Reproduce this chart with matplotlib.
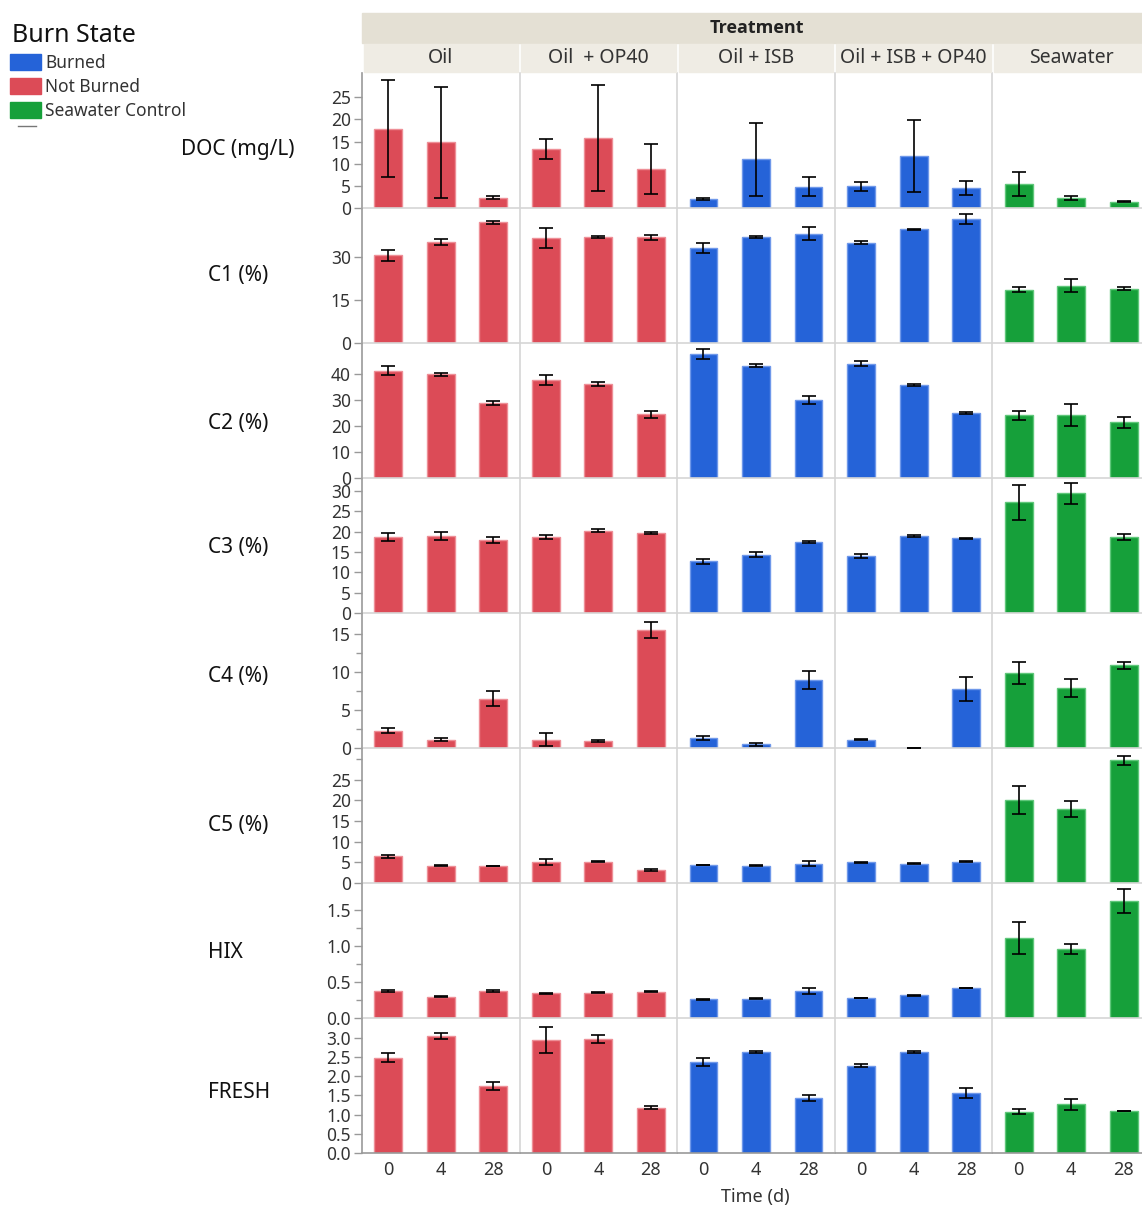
import numpy as np
import matplotlib.pyplot as plt
from matplotlib.patches import Rectangle
from matplotlib.lines import Line2D

plt.rcParams['font.family'] = ['Noto Sans', 'DejaVu Sans']

# categories
treatments = ['Oil', 'Oil  + OP40', 'Oil + ISB', 'Oil + ISB + OP40', 'Seawater']
burn_of_treatment = ['Not Burned', 'Not Burned', 'Burned', 'Burned', 'Seawater Control']
times = ['0', '4', '28']
responses = ['DOC (mg/L)', 'C1 (%)', 'C2 (%)', 'C3 (%)', 'C4 (%)', 'C5 (%)', 'HIX', 'FRESH']

# means and error bars, one row of 3 time points per treatment
doc_mean = [[17.9, 14.8, 2.35], [13.3, 15.75, 8.8], [2.1, 11.0, 4.85], [4.9, 11.7, 4.55], [5.4, 2.2, 1.4]]
doc_err = [[11.0, 12.5, 0.35], [2.3, 12.0, 5.7], [0.2, 8.3, 2.1], [0.95, 8.1, 1.5], [2.65, 0.4, 0.1]]

c1_mean = [[30.5, 35.1, 42.0], [36.6, 36.9, 36.8], [33.2, 36.9, 38.1], [34.95, 39.6, 43.1], [18.5, 19.9, 18.9]]
c1_err = [[2.0, 1.1, 0.6], [3.5, 0.3, 0.9], [1.7, 0.5, 2.4], [0.6, 0.1, 1.7], [0.9, 2.3, 0.5]]

c2_mean = [[41.3, 40.0, 29.0], [37.7, 36.2, 24.5], [47.7, 43.3, 30.0], [44.1, 35.9, 25.1], [24.1, 24.4, 21.4]]
c2_err = [[1.7, 0.6, 0.8], [2.0, 0.6, 1.35], [1.9, 0.6, 1.5], [0.9, 0.3, 0.3], [1.9, 4.2, 2.2]]

c3_mean = [[18.6, 19.0, 17.9], [18.6, 20.2, 19.7], [12.7, 14.3, 17.5], [14.1, 18.9, 18.35], [27.2, 29.4, 18.75]]
c3_err = [[1.0, 1.0, 0.7], [0.5, 0.4, 0.2], [0.6, 0.6, 0.2], [0.5, 0.2, 0.2], [4.3, 2.5, 0.8]]

c4_mean = [[2.26, 1.1, 6.47], [1.1, 0.9, 15.5], [1.33, 0.5, 8.9], [1.1, 0.05, 7.7], [9.8, 7.9, 10.85]]
c4_err = [[0.33, 0.2, 1.0], [0.9, 0.1, 1.05], [0.3, 0.2, 1.2], [0.1, 0.0, 1.6], [1.45, 1.2, 0.45]]

c5_mean = [[6.5, 4.2, 4.1], [5.05, 5.2, 3.1], [4.4, 4.2, 4.7], [5.0, 4.7, 5.2], [20.1, 18.0, 29.7]]
c5_err = [[0.4, 0.2, 0.05], [0.75, 0.2, 0.2], [0.05, 0.2, 0.6], [0.2, 0.2, 0.2], [3.4, 1.9, 1.0]]

hix_mean = [[0.375, 0.296, 0.375], [0.343, 0.352, 0.366], [0.26, 0.27, 0.375], [0.278, 0.315, 0.42], [1.115, 0.954, 1.625]]
hix_err = [[0.01, 0.01, 0.01], [0.01, 0.005, 0.01], [0.01, 0.01, 0.045], [0.003, 0.01, 0.003], [0.22, 0.07, 0.17]]

fresh_mean = [[2.49, 3.05, 1.75], [2.95, 2.97, 1.18], [2.37, 2.63, 1.43], [2.27, 2.64, 1.57], [1.08, 1.27, 1.1]]
fresh_err = [[0.12, 0.08, 0.1], [0.33, 0.11, 0.04], [0.11, 0.02, 0.085], [0.04, 0.02, 0.13], [0.06, 0.15, 0.005]]

means = [doc_mean, c1_mean, c2_mean, c3_mean, c4_mean, c5_mean, hix_mean, fresh_mean]
errs = [doc_err, c1_err, c2_err, c3_err, c4_err, c5_err, hix_err, fresh_err]

# axis setup for each response row
ylims = [(0, 30.5), (0, 47), (0, 52), (0, 33.2), (0, 17.7), (0, 32.7), (0, 1.875), (0, 3.52)]
major = [np.arange(0, 26, 5), [0, 15, 30], np.arange(0, 41, 10), np.arange(0, 31, 5),
         [0, 5, 10, 15], np.arange(0, 26, 5), [0, 0.5, 1.0, 1.5], np.arange(0, 3.01, 0.5)]
minor = [[], [], [], [], [2.5, 7.5, 12.5], [30], [0.25, 0.75, 1.25], []]
fmts = ['%d', '%d', '%d', '%d', '%d', '%d', '%.1f', '%.1f']

colors = {'Burned': '#2563d8', 'Not Burned': '#dc4b57', 'Seawater Control': '#16a03a'}
edges = {'Burned': '#6f98ea', 'Not Burned': '#ee8f97', 'Seawater Control': '#5fc77a'}

W, H = 1142, 1208
fig = plt.figure(figsize=(W / 100, H / 100), dpi=100)

def fx(px):
    return px / W

def fy(py):
    return 1 - py / H

left0, col_w = 362, 157.6
top0, row_h = 73, 135
txt = '#333333'

for r in range(len(responses)):
    for c in range(len(treatments)):
        ax = fig.add_axes([fx(left0 + c * col_w), fy(top0 + (r + 1) * row_h), col_w / W, row_h / H])
        state = burn_of_treatment[c]
        x = np.arange(len(times))
        ax.bar(x, means[r][c], width=0.53, color=colors[state], edgecolor=edges[state], linewidth=1, zorder=2)
        ax.errorbar(x, means[r][c], yerr=errs[r][c], fmt='none', ecolor='black',
                    elinewidth=1.2, capsize=5, capthick=1.2, zorder=3)
        ax.set_xlim(-0.5, 2.5)
        ax.set_ylim(*ylims[r])
        for s in ['top', 'right']:
            ax.spines[s].set_visible(False)
        ax.spines['left'].set_color('#999999' if c == 0 else '#d6d6d6')
        ax.spines['bottom'].set_color('#999999' if r == len(responses) - 1 else '#d6d6d6')
        ax.spines['left'].set_linewidth(1.2)
        ax.spines['bottom'].set_linewidth(1.2)
        ax.set_yticks(major[r])
        ax.set_yticks(minor[r], minor=True)
        if c == 0:
            ax.set_yticklabels([fmts[r] % v for v in major[r]])
            ax.tick_params(axis='y', which='both', length=6, width=1, color='#999999',
                           labelsize=12.5, labelcolor=txt, pad=2)
            ax.tick_params(axis='y', which='minor', length=4)
        else:
            ax.tick_params(axis='y', which='both', left=False, labelleft=False)
        ax.set_xticks(x)
        if r == len(responses) - 1:
            ax.set_xticklabels(times)
            ax.tick_params(axis='x', length=0, labelsize=13, labelcolor=txt, pad=6)
        else:
            ax.tick_params(axis='x', length=0, labelbottom=False)
        ax.patch.set_alpha(0)

# response labels on the left
label_x = [181, 208, 208, 208, 208, 208, 208, 208]
label_y = [149, 275, 423, 548, 677, 826, 952, 1092]
for name, lx, ly in zip(responses, label_x, label_y):
    fig.text(fx(lx), fy(ly), name, fontsize=15, color='#111111', ha='left', va='center')

# header bands
fig.patches.append(Rectangle((fx(left0), fy(43)), fx(1142) - fx(left0), 30 / H,
                             transform=fig.transFigure, color='#e4e0d4', zorder=0))
fig.text(fx(757), fy(28), 'Treatment', fontsize=13, fontweight='bold', color='#222222',
         ha='center', va='center', family=['Open Sans', 'DejaVu Sans'])
for c, name in enumerate(treatments):
    x0 = left0 + c * col_w + 1.5
    fig.patches.append(Rectangle((fx(x0), fy(72)), (col_w - 3) / W, 28 / H,
                                 transform=fig.transFigure, color='#efece4', zorder=0))
    fig.text(fx(left0 + c * col_w + col_w / 2), fy(58), name, fontsize=14, color=txt,
             ha='center', va='center')

fig.text(fx(755), fy(1197), 'Time (d)', fontsize=13, color=txt, ha='center', va='center')

# legend
fig.text(fx(12), fy(36), 'Burn State', fontsize=18, color='#111111', ha='left', va='center')
for i, state in enumerate(['Burned', 'Not Burned', 'Seawater Control']):
    yc = 62 + i * 24
    fig.patches.append(Rectangle((fx(10), fy(yc + 8)), 31 / W, 16 / H,
                                 transform=fig.transFigure, color=colors[state]))
    fig.text(fx(45), fy(yc + 1), state, fontsize=12.5, color=txt, ha='left', va='center')
fig.lines.append(Line2D([fx(18), fx(36)], [fy(126), fy(126)], transform=fig.transFigure,
                        color='#777777', lw=1))

fig.savefig('out.png', dpi=100)
